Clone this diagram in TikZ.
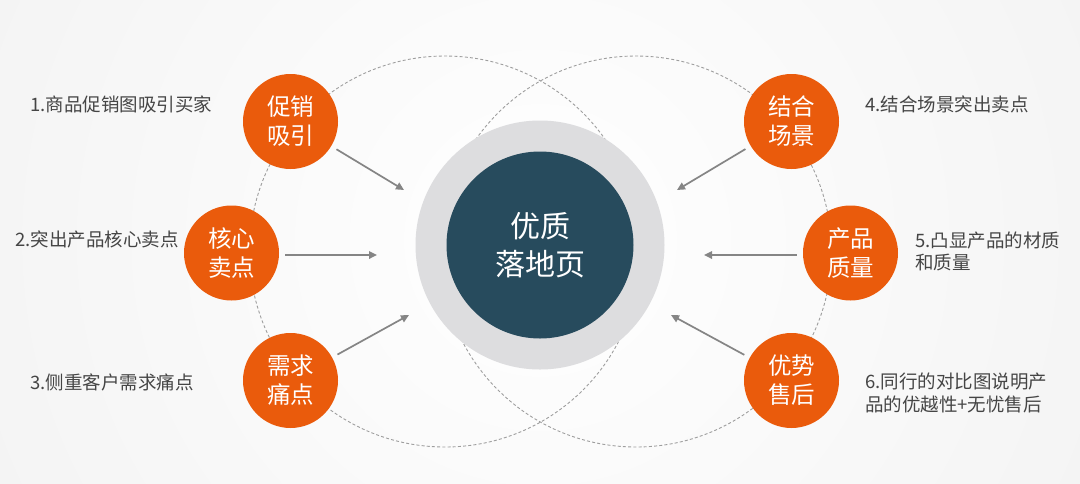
\documentclass[tikz,border=0pt]{standalone}
\usepackage{fontspec}
\setmainfont{Noto Sans CJK SC}
\usetikzlibrary{arrows.meta}
\definecolor{orng}{HTML}{EA5B0C}
\definecolor{coreblue}{HTML}{274B5D}
\definecolor{ringgray}{HTML}{DDDDDF}
\definecolor{labgray}{HTML}{454545}
\definecolor{arrgray}{HTML}{858585}
\definecolor{dashgray}{HTML}{9E9E9E}
\definecolor{bgouter}{HTML}{E9E9E9}
\tikzset{
  bubble/.style={circle, fill=orng, minimum size=95pt, inner sep=0pt, text=white,
    align=center, font=\fontsize{23.5}{29}\selectfont},
  lab/.style={anchor=west, inner sep=0pt, text=labgray, align=left,
    font=\fontsize{18.5}{22.5}\selectfont},
  arr/.style={draw=arrgray, line width=1.7pt, -{Triangle[length=8pt,width=7.5pt]}, shorten <=6pt},
  dashc/.style={draw=dashgray, line width=0.9pt, dash pattern=on 3pt off 2.2pt}
}
\begin{document}
\begin{tikzpicture}[x=1pt,y=-1pt]
\useasboundingbox (0,0) rectangle (1080,483);
\begin{scope}
\clip (0,0) rectangle (1080,483);
\shade[inner color=white, outer color=bgouter] (540,240) circle (1200);
\end{scope}
% dashed circles
\draw[dashc] (445,251.5) circle (195.5);
\draw[dashc] (636,251.5) circle (195.5);
% centre
\node[circle, fill=ringgray, minimum size=249pt, inner sep=0pt] (ring) at (540,245) {};
\node[circle, fill=coreblue, minimum size=187pt, inner sep=0pt, text=white, align=center,
  font=\fontsize{30}{38}\selectfont] (core) at (540,245) {优质\\落地页};
% bubbles
\node[bubble] (c1) at (290.5,121.5) {促销\\吸引};
\node[bubble] (c2) at (231.5,253) {核心\\卖点};
\node[bubble] (c3) at (290.5,380.5) {需求\\痛点};
\node[bubble] (c4) at (791.5,121.5) {结合\\场景};
\node[bubble] (c5) at (850.5,253) {产品\\质量};
\node[bubble] (c6) at (791.5,380.5) {优势\\售后};
% arrow ends
\coordinate (e1) at (404,190);
\coordinate (e2) at (377,255);
\coordinate (e3) at (409,315);
\coordinate (e4) at (677,190);
\coordinate (e5) at (704,255);
\coordinate (e6) at (671,315);
\draw[arr] (c1) -- (e1);
\draw[arr] (c2.east |- e2) -- (e2);
\draw[arr] (c3) -- (e3);
\draw[arr] (c4) -- (e4);
\draw[arr] (c5.west |- e5) -- (e5);
\draw[arr] (c6) -- (e6);
% labels
\node[lab] (l1) at (30,104) {1.商品促销图吸引买家};
\node[lab] (l2) at (15,239) {2.突出产品核心卖点};
\node[lab] (l3) at (30,382) {3.侧重客户需求痛点};
\node[lab] (l4) at (865,104) {4.结合场景突出卖点};
\node[lab] (l5) at (915,251.5) {5.凸显产品的材质\\和质量};
\node[lab] (l6) at (865,393) {6.同行的对比图说明产\\品的优越性+无忧售后};
\end{tikzpicture}
\end{document}
